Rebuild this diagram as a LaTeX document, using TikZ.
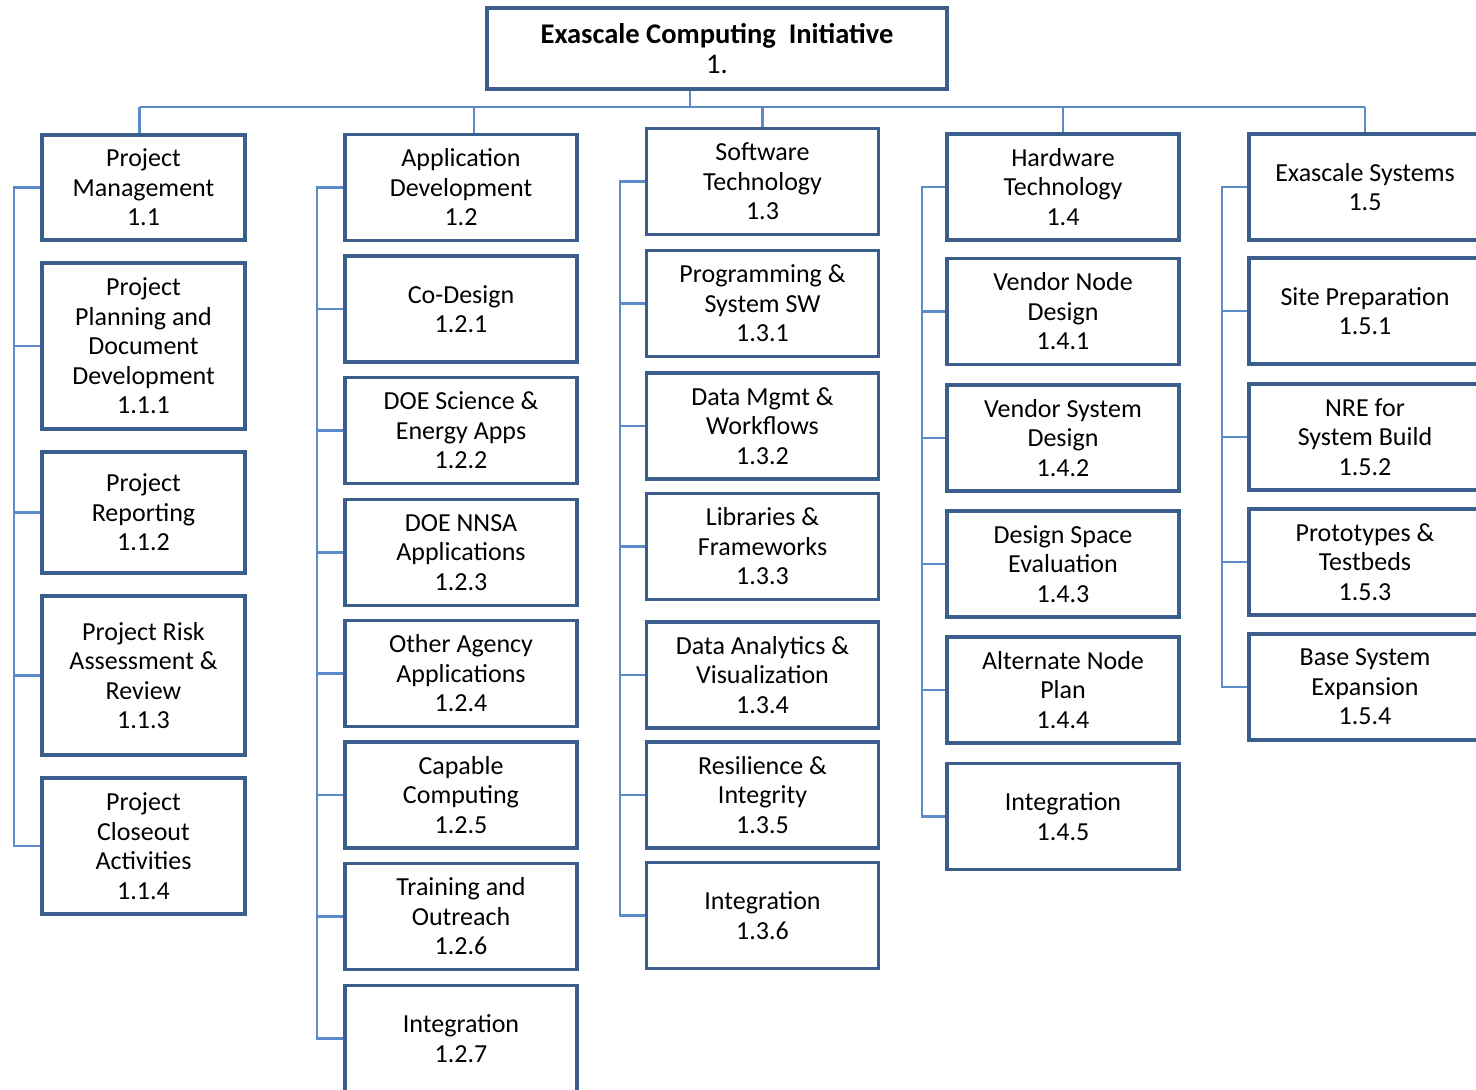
\documentclass[tikz,border=0pt]{standalone}
\usepackage{fontspec}
\setmainfont{Carlito}
\usepackage{xcolor}
\usepackage{tikz}
\usetikzlibrary{positioning,calc}
\definecolor{wbsedge}{HTML}{3B5E8C}
\definecolor{wbslink}{HTML}{5B8BC9}
\tikzset{
  wbs/.style={draw=wbsedge, line width=3.5pt, fill=white, align=center,
    inner sep=2pt, minimum width=232pt, minimum height=106pt,
    font=\fontsize{26}{29.5}\selectfont},
  link/.style={draw=wbslink, line width=2.5pt}
}

\begin{document}
\begin{tikzpicture}[x=1pt,y=-1pt]
        \useasboundingbox (0,0) rectangle (1476,1090);
        \clip (0,0) rectangle (1476,1090);
        % top
        \node[wbs, minimum width=460pt, minimum height=81pt, font=\fontsize{28.5}{30}\selectfont] (eci) at (717,48.5) {\textbf{Exascale Computing\ \ Initiative}\\1.};
        % column 1.1
        \node[wbs, minimum width=203pt, minimum height=105pt] (c11) at (143.5,187.5) {Project\\Management\\1.1};
        \node[wbs, minimum width=203pt, minimum height=166pt] (c111) at (143.5,346) {Project\\Planning and\\Document\\Development\\1.1.1};
        \node[wbs, minimum width=203pt, minimum height=121pt] (c112) at (143.5,512.5) {Project\\Reporting\\1.1.2};
        \node[wbs, minimum width=203pt, minimum height=159pt] (c113) at (143.5,675.5) {Project Risk\\Assessment \&\\Review\\1.1.3};
        \node[wbs, minimum width=203pt, minimum height=136pt] (c114) at (143.5,846) {Project\\Closeout\\Activities\\1.1.4};
        % column 1.2
        \node[wbs] (c12) at (461,187.5) {Application\\Development\\1.2};
        \node[wbs] (c121) at (461,309) {Co-Design\\1.2.1};
        \node[wbs] (c122) at (461,430.5) {DOE Science \&\\Energy Apps\\1.2.2};
        \node[wbs] (c123) at (461,552.5) {DOE NNSA\\Applications\\1.2.3};
        \node[wbs] (c124) at (461,673.5) {Other Agency\\Applications\\1.2.4};
        \node[wbs] (c125) at (461,795) {Capable\\Computing\\1.2.5};
        \node[wbs] (c126) at (461,916.5) {Training and\\Outreach\\1.2.6};
        \node[wbs] (c127) at (461,1038.5) {Integration\\1.2.7};
        % column 1.3
        \node[wbs] (c13) at (762.5,181.5) {Software\\Technology\\1.3};
        \node[wbs] (c131) at (762.5,303.5) {Programming \&\\System SW\\1.3.1};
        \node[wbs] (c132) at (762.5,426) {Data Mgmt \&\\Workflows\\1.3.2};
        \node[wbs] (c133) at (762.5,546.5) {Libraries \&\\Frameworks\\1.3.3};
        \node[wbs] (c134) at (762.5,675) {Data Analytics \&\\Visualization\\1.3.4};
        \node[wbs] (c135) at (762.5,795) {Resilience \&\\Integrity\\1.3.5};
        \node[wbs] (c136) at (762.5,915.5) {Integration\\1.3.6};
        % column 1.4
        \node[wbs] (c14) at (1063,187) {Hardware\\Technology\\1.4};
        \node[wbs] (c141) at (1063,311.5) {Vendor Node\\Design\\1.4.1};
        \node[wbs] (c142) at (1063,438) {Vendor System\\Design\\1.4.2};
        \node[wbs] (c143) at (1063,564) {Design Space\\Evaluation\\1.4.3};
        \node[wbs] (c144) at (1063,690) {Alternate Node\\Plan\\1.4.4};
        \node[wbs] (c145) at (1063,816.5) {Integration\\1.4.5};
        % column 1.5
        \node[wbs] (c15) at (1365,187) {Exascale Systems\\1.5};
        \node[wbs] (c151) at (1365,311) {Site Preparation\\1.5.1};
        \node[wbs] (c152) at (1365,437) {NRE for\\System Build\\1.5.2};
        \node[wbs] (c153) at (1365,562) {Prototypes \&\\Testbeds\\1.5.3};
        \node[wbs] (c154) at (1365,687) {Base System\\Expansion\\1.5.4};
        % bus
        \coordinate (bus) at (0,107);
        \draw[link] ([xshift=-27pt]eci.south) -- ([xshift=-27pt]eci.south |- bus);
        \draw[link] ([xshift=-4pt]c11.north |- bus) -- (c15.north |- bus);
        \draw[link] ([xshift=-4pt]c11.north) -- ([xshift=-4pt]c11.north |- bus);
        \draw[link] ([xshift=13pt]c12.north) -- ([xshift=13pt]c12.north |- bus);
        \foreach \n in {c13,c14,c15}
          \draw[link] (\n.north) -- (\n.north |- bus);
        % spines
        \coordinate (s1) at (14,0);
        \coordinate (s2) at (317,0);
        \coordinate (s3) at (620,0);
        \coordinate (s4) at (922,0);
        \coordinate (s5) at (1222,0);
        \draw[link] (c11.west) -| (s1 |- c114.west) -- (c114.west);
        \draw[link] (c12.west) -| (s2 |- c127.west) -- (c127.west);
        \draw[link] (c13.west) -| (s3 |- c136.west) -- (c136.west);
        \draw[link] (c14.west) -| (s4 |- c145.west) -- (c145.west);
        \draw[link] (c15.west) -| (s5 |- c154.west) -- (c154.west);
        \foreach \n in {c111,c112,c113}
          \draw[link] (\n.west) -- (\n.west -| s1);
        \foreach \n in {c121,c122,c123,c124,c125,c126}
          \draw[link] (\n.west) -- (\n.west -| s2);
        \foreach \n in {c131,c132,c133,c134,c135}
          \draw[link] (\n.west) -- (\n.west -| s3);
        \foreach \n in {c141,c142,c143,c144}
          \draw[link] (\n.west) -- (\n.west -| s4);
        \foreach \n in {c151,c152,c153}
          \draw[link] (\n.west) -- (\n.west -| s5);
      \end{tikzpicture}
\end{document}
